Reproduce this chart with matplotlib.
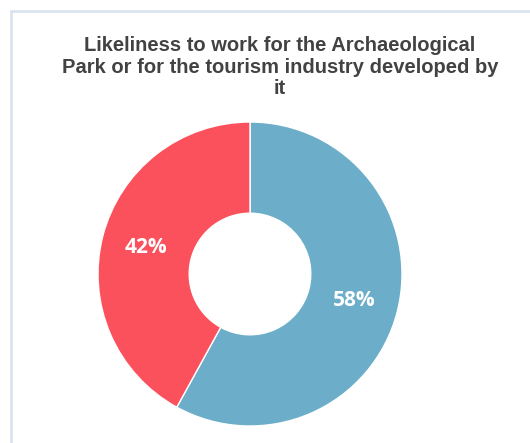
import matplotlib.pyplot as plt
from matplotlib.patches import Rectangle

# Data
labels = ['Yes', 'No']
values = [58, 42]
colors = ['#6caec9', '#fb515c']
title = 'Likeliness to work for the Archaeological\nPark or for the tourism industry developed by\nit'

W, H = 530, 443
fig = plt.figure(figsize=(W / 100, H / 100), dpi=100)

# Light frame around the chart (right and bottom edges run off the image)
top = 1 - 10.5 / H
fig.patches.append(Rectangle((10.5 / W, -0.5), 1.5, top + 0.5,
                             transform=fig.transFigure, fill=False,
                             edgecolor='#dae4ee', linewidth=2))

# Donut axes: centre (250, 274) px from top, radius 152 px
cx, cy, r = 250, H - 274, 152
ax = fig.add_axes([(cx - r) / W, (cy - r) / H, 2 * r / W, 2 * r / H])

wedges, texts, autotexts = ax.pie(
    values, colors=colors, startangle=90, counterclock=False,
    autopct='%d%%', pctdistance=0.71, radius=1,
    wedgeprops=dict(width=0.6, edgecolor='white', linewidth=1),
    textprops=dict(color='white', fontsize=15, fontweight='bold',
                   family=['Open Sans', 'DejaVu Sans']))
ax.set_xlim(-1, 1)
ax.set_ylim(-1, 1)
ax.set_aspect('equal')
ax.axis('off')

# Title
fig.text(280 / W, 1 - 36 / H, title, ha='center', va='top', fontsize=14.5,
         fontweight='bold', color='#424242', linespacing=1.18,
         family=['Liberation Sans', 'DejaVu Sans'])

fig.savefig('out.png', dpi=100)
